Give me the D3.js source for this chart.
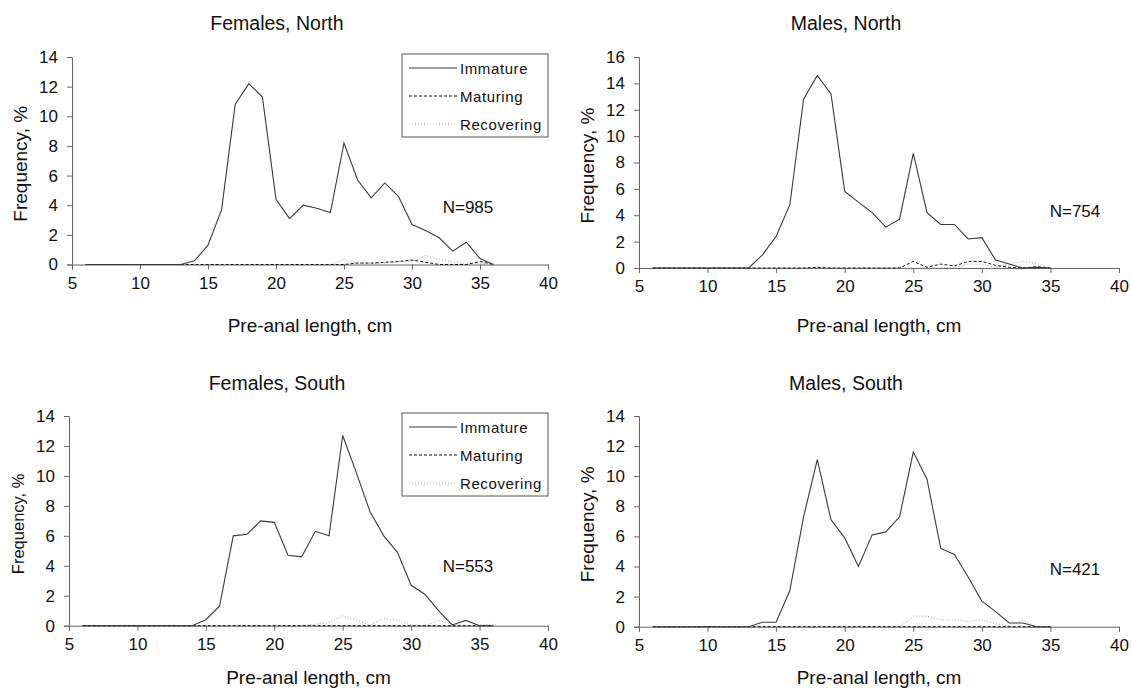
<!DOCTYPE html>
<html>
<head>
<meta charset="utf-8">
<script src="https://cdn.jsdelivr.net/npm/d3@7"></script>
<style>
  html, body { margin: 0; padding: 0; background: #fff; }
  svg { display: block; font-family: "Liberation Sans", Arial, sans-serif; }
</style>
</head>
<body>
<svg id="chart" width="1131" height="699"></svg>
<script>
// Pre-anal length classes (cm)
const lengthsLong  = [6,7,8,9,10,11,12,13,14,15,16,17,18,19,20,21,22,23,24,25,26,27,28,29,30,31,32,33,34,35,36];
const lengthsShort = [6,7,8,9,10,11,12,13,14,15,16,17,18,19,20,21,22,23,24,25,26,27,28,29,30,31,32,33,34,35];

const xTicks = [5, 10, 15, 20, 25, 30, 35, 40];
const yTicks14 = [0, 2, 4, 6, 8, 10, 12, 14];
const yTicks16 = [0, 2, 4, 6, 8, 10, 12, 14, 16];

const stageNames = ["Immature", "Maturing", "Recovering"];

// Females, North (N=985), frequency %
const femNorthImmature   = [0,0,0,0,0,0,0,0,0.25,1.3,3.7,10.8,12.2,11.3,4.4,3.1,4.0,3.8,3.5,8.2,5.7,4.5,5.5,4.6,2.7,2.3,1.8,0.9,1.5,0.4,0];
const femNorthMaturing   = [0,0,0,0,0,0,0,0,0,0,0,0,0,0,0,0,0,0,0,0,0.1,0.1,0.15,0.2,0.3,0.15,0,0,0,0.2,0];
const femNorthRecovering = [0,0,0,0,0,0,0,0,0,0,0,0,0,0,0,0,0,0,0,0.35,0.05,0.05,0.1,0.2,0.2,0.6,0.35,0.2,0,0.1,0];

// Males, North (N=754)
const maleNorthImmature   = [0,0,0,0,0,0,0,0,1.0,2.4,4.8,12.8,14.6,13.2,5.8,5.0,4.2,3.1,3.7,8.7,4.2,3.3,3.3,2.2,2.3,0.6,0.3,0,0.05,0];
const maleNorthMaturing   = [0,0,0,0,0,0,0,0,0,0,0,0,0.05,0,0,0,0,0,0,0.5,0.05,0.3,0.15,0.5,0.5,0.2,0.05,0,0.1,0];
const maleNorthRecovering = [0,0,0,0,0,0,0,0,0,0,0,0,0,0,0,0,0,0,0,0,0,0,0.05,0.3,0.3,0.05,0.3,0.5,0.35,0];

// Females, South (N=553)
const femSouthImmature   = [0,0,0,0,0,0,0,0,0,0.4,1.3,6.0,6.1,7.0,6.9,4.7,4.6,6.3,6.0,12.7,10.2,7.6,6.0,4.9,2.7,2.1,1.0,0.05,0.35,0,0];
const femSouthMaturing   = [0,0,0,0,0,0,0,0,0,0,0,0,0,0,0,0,0,0,0,0,0,0,0,0,0,0,0,0,0,0,0];
const femSouthRecovering = [0,0,0,0,0,0,0,0,0,0,0,0,0,0,0,0,0,0.1,0.2,0.65,0.35,0.05,0.5,0.35,0.05,0,0.35,0.1,0,0.05,0.1];

// Males, South (N=421)
const maleSouthImmature   = [0,0,0,0,0,0,0,0,0.3,0.3,2.4,7.3,11.1,7.1,5.9,4.0,6.1,6.3,7.3,11.6,9.8,5.2,4.8,3.3,1.7,1.0,0.25,0.25,0,0];
const maleSouthMaturing   = [0,0,0,0,0,0,0,0,0,0,0,0,0,0,0,0,0,0,0,0,0,0,0,0,0,0,0,0,0,0];
const maleSouthRecovering = [0,0,0,0,0,0,0,0,0,0,0,0,0,0,0,0,0,0,0,0.7,0.7,0.45,0.45,0.35,0.45,0.2,0.05,0.4,0,0];

const svg = d3.select("#chart");

// line styles for the three maturity stages
const stageStyle = [
  { stroke: "#3a3a3a", dash: null,  width: 1.1 },
  { stroke: "#111111", dash: "3,2", width: 1 },
  { stroke: "#a8a8a8", dash: "1,2", width: 1 }
];

const panels = [
  { title: "Females, North", n: "N=985", x: lengthsLong,
    series: [femNorthImmature, femNorthMaturing, femNorthRecovering],
    yMax: 14, yTicks: yTicks14, legend: true,
    left: 72, right: 548, top: 57, bottom: 264.5,
    titleX: 277, titleY: 30, nX: 468, nY: 213, ylabX: 20, ylabSize: 19, xlabY: 332 },
  { title: "Males, North", n: "N=754", x: lengthsShort,
    series: [maleNorthImmature, maleNorthMaturing, maleNorthRecovering],
    yMax: 16, yTicks: yTicks16, legend: false,
    left: 639, right: 1119, top: 57, bottom: 268,
    titleX: 846, titleY: 30, nX: 1075, nY: 217, ylabX: 587, ylabSize: 19, xlabY: 332 },
  { title: "Females, South", n: "N=553", x: lengthsLong,
    series: [femSouthImmature, femSouthMaturing, femSouthRecovering],
    yMax: 14, yTicks: yTicks14, legend: true,
    left: 69, right: 548, top: 416, bottom: 625.7,
    titleX: 277, titleY: 389.5, nX: 468, nY: 572, ylabX: 17, ylabSize: 16.5, xlabY: 683.5 },
  { title: "Males, South", n: "N=421", x: lengthsShort,
    series: [maleSouthImmature, maleSouthMaturing, maleSouthRecovering],
    yMax: 14, yTicks: yTicks14, legend: false,
    left: 639, right: 1119, top: 416, bottom: 626.7,
    titleX: 846, titleY: 389.5, nX: 1075, nY: 575, ylabX: 587, ylabSize: 19, xlabY: 684 }
];

const axisColor = "#666";

function drawPanel(p) {
  const g = svg.append("g");
  const x = d3.scaleLinear().domain([5, 40]).range([p.left, p.right]);
  const y = d3.scaleLinear().domain([0, p.yMax]).range([p.bottom, p.top]);

  // x axis
  const xa = g.append("g")
    .attr("transform", `translate(0,${p.bottom})`)
    .call(d3.axisBottom(x).tickValues(xTicks).tickSize(5).tickPadding(7).tickFormat(d3.format("d")));
  xa.select(".domain").attr("stroke", axisColor);
  xa.selectAll(".tick line").attr("stroke", axisColor);
  xa.selectAll("text").attr("font-size", 17).attr("fill", "#111")
    .attr("font-family", '"Liberation Sans", Arial, sans-serif');

  // y axis
  const ya = g.append("g")
    .attr("transform", `translate(${p.left},0)`)
    .call(d3.axisLeft(y).tickValues(p.yTicks).tickSize(5).tickPadding(9).tickFormat(d3.format("d")));
  ya.select(".domain").attr("stroke", axisColor);
  ya.selectAll(".tick line").attr("stroke", axisColor);
  ya.selectAll("text").attr("font-size", 17).attr("fill", "#111")
    .attr("font-family", '"Liberation Sans", Arial, sans-serif');

  // stage lines, drawn back to front
  const line = d3.line().x((d, i) => x(p.x[i])).y(d => y(d));
  [2, 1, 0].forEach(k => {
    const s = stageStyle[k];
    g.append("path")
      .datum(p.series[k])
      .attr("d", line)
      .attr("fill", "none")
      .attr("stroke", s.stroke)
      .attr("stroke-width", s.width)
      .attr("stroke-dasharray", s.dash);
  });

  // title
  g.append("text").attr("x", p.titleX).attr("y", p.titleY)
    .attr("text-anchor", "middle").attr("font-size", 19.5).attr("fill", "#111")
    .text(p.title);

  // axis titles
  g.append("text").attr("x", (p.left + p.right) / 2).attr("y", p.xlabY)
    .attr("text-anchor", "middle").attr("font-size", 19).attr("fill", "#111")
    .text("Pre-anal length, cm");
  const cy = (p.top + p.bottom) / 2 + 3;
  g.append("text")
    .attr("transform", `translate(${p.ylabX + 7},${cy}) rotate(-90)`)
    .attr("text-anchor", "middle").attr("font-size", p.ylabSize).attr("fill", "#111")
    .text("Frequency, %");

  // sample size
  g.append("text").attr("x", p.nX).attr("y", p.nY)
    .attr("text-anchor", "middle").attr("font-size", 17).attr("fill", "#111")
    .text(p.n);

  if (p.legend) {
    const lx = 402, ly = p.top - 3, lw = 146, lh = 83;
    const lg = g.append("g");
    lg.append("rect").attr("x", lx).attr("y", ly).attr("width", lw).attr("height", lh)
      .attr("fill", "#fff").attr("stroke", "#555").attr("stroke-width", 1);
    stageNames.forEach((name, k) => {
      const ry = ly + 14 + k * 28;
      const s = stageStyle[k];
      lg.append("line").attr("x1", lx + 7).attr("x2", lx + 55).attr("y1", ry).attr("y2", ry)
        .attr("stroke", s.stroke).attr("stroke-width", s.width).attr("stroke-dasharray", s.dash);
      lg.append("text").attr("x", lx + 58).attr("y", ry + 5.5)
        .attr("font-size", 15).attr("letter-spacing", 0.6).attr("fill", "#111")
        .text(name);
    });
  }
}

panels.forEach(drawPanel);
</script>
</body>
</html>
